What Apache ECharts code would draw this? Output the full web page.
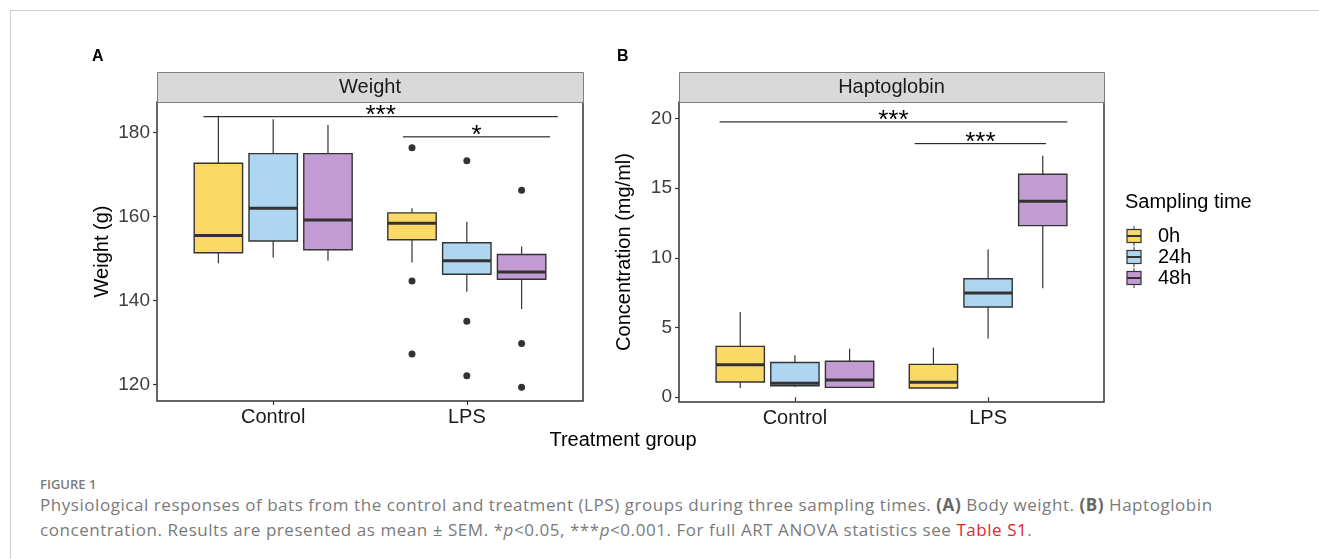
<!DOCTYPE html>
<html lang="en">
<head>
    <meta charset="UTF-8">
    <title>Figure 1</title>
    <script src="https://cdn.jsdelivr.net/npm/echarts@6.0.0/dist/echarts.min.js"></script>
    <style>
        body { margin: 0; background: #fff; }
        .frame { position: absolute; left: 10px; top: 10px; width: 1309px; height: 549px;
                 border-top: 1px solid #d0d0d0; border-left: 1px solid #d0d0d0; }
        #chart { position: absolute; left: 0; top: 0; width: 1319px; height: 462px; }
        #caption { position: absolute; left: 40px; top: 476px; color: #7a7a7a;
                   font-family: "Open Sans", sans-serif; white-space: nowrap; }
        #caption .fig { font-size: 13px; font-weight: 600; line-height: 16px; color: #7a7a7a; }
        #caption .txt { font-size: 17px; font-weight: 400; letter-spacing: 0.55px; line-height: 25px; margin-top: 0; }
        #caption b { color: #666; font-weight: 700; }
        #caption .red { color: #e0282e; }
    </style>
</head>
<body>
    <div class="frame"></div>
    <div id="chart"></div>
    <div id="caption">
        <div class="fig">FIGURE 1</div>
        <div class="txt">Physiological responses of bats from the control and treatment (LPS) groups during three sampling times. <b>(A)</b> Body weight. <b>(B)</b> Haptoglobin<br>concentration. Results are presented as mean ± SEM. *<i>p</i>&lt;0.05, ***<i>p</i>&lt;0.001. For full ART ANOVA statistics see <span class="red">Table S1</span>.</div>
    </div>

    <script>
        // 分组与采样时间
        const categories = ['Control', 'LPS'];
        const times = ['0h', '24h', '48h'];
        const timeColors = ['#FBD966', '#AED6F1', '#C39BD3'];

        // 箱线数据 [下须, Q1, 中位数, Q3, 上须]，每个处理组一条
        const weight0h = [[148.9, 151.4, 155.5, 172.7, 184.0], [149.1, 154.5, 158.4, 160.9, 162.0]];
        const weight24h = [[150.3, 154.2, 162.0, 175.0, 183.2], [142.1, 146.3, 149.5, 153.8, 158.8]];
        const weight48h = [[149.5, 152.1, 159.2, 175.0, 181.8], [138.0, 145.1, 146.8, 151.0, 152.9]];
        const weightOut0h = [[], [176.4, 144.7, 127.3]];
        const weightOut24h = [[], [173.3, 135.1, 122.1]];
        const weightOut48h = [[], [166.3, 129.8, 119.4]];

        const hapto0h = [[0.66, 1.09, 2.34, 3.65, 6.12], [0.64, 0.66, 1.07, 2.36, 3.56]];
        const hapto24h = [[0.73, 0.83, 1.0, 2.50, 3.01], [4.21, 6.48, 7.48, 8.51, 10.6]];
        const hapto48h = [[0.66, 0.71, 1.24, 2.58, 3.49], [7.82, 12.32, 14.06, 16.0, 17.34]];

        const weightTicks = [120, 140, 160, 180];
        const haptoTicks = [0, 5, 10, 15, 20];

        // 显著性标注 [起点x, 终点x, y, 文本]
        const weightSig = [[0.64, 2.47, 183.8, '***'], [1.67, 2.43, 179.0, '*']];
        const haptoSig = [[0.61, 2.41, 19.76, '***'], [1.62, 2.30, 18.2, '***']];

        const DODGE = 0.283;
        const BOX_W = 0.25;
        const FONT = '"Liberation Sans", Arial, sans-serif';
        const INK = '#333';

        function boxData(stats, t) {
            return stats.map((s, c) => [c + 1 + (t - 1) * DODGE].concat(s));
        }
        function outlierData(outs, t) {
            const pts = [];
            outs.forEach((list, c) => list.forEach(v => pts.push([c + 1 + (t - 1) * DODGE, v])));
            return pts;
        }

        function renderBox(params, api) {
            const x = api.value(0);
            const lo = api.coord([x, api.value(1)]);
            const q1 = api.coord([x, api.value(2)]);
            const med = api.coord([x, api.value(3)]);
            const q3 = api.coord([x, api.value(4)]);
            const hi = api.coord([x, api.value(5)]);
            const half = api.size([BOX_W, 0])[0] / 2;
            const cx = lo[0];
            return {
                type: 'group',
                children: [
                    { type: 'line', shape: { x1: cx, y1: hi[1], x2: cx, y2: q3[1] }, style: { stroke: INK, lineWidth: 1.2 } },
                    { type: 'line', shape: { x1: cx, y1: q1[1], x2: cx, y2: lo[1] }, style: { stroke: INK, lineWidth: 1.2 } },
                    { type: 'rect', shape: { x: cx - half, y: q3[1], width: half * 2, height: q1[1] - q3[1] },
                      style: { fill: api.visual('color'), stroke: INK, lineWidth: 1.4 } },
                    { type: 'line', shape: { x1: cx - half, y1: med[1], x2: cx + half, y2: med[1] }, style: { stroke: INK, lineWidth: 3 } }
                ]
            };
        }

        function renderSig(params, api) {
            const a = api.coord([api.value(0), api.value(2)]);
            const b = api.coord([api.value(1), api.value(2)]);
            return {
                type: 'group',
                children: [
                    { type: 'line', shape: { x1: a[0], y1: a[1], x2: b[0], y2: b[1] }, style: { stroke: '#000', lineWidth: 1 } },
                    { type: 'text', x: (a[0] + b[0]) / 2, y: a[1] - 1,
                      style: { text: api.value(3), fill: '#000', font: '26px ' + FONT, align: 'center', verticalAlign: 'middle' } }
                ]
            };
        }

        // 图例图标：小箱线
        function keyIcon(color) {
            const svg = '<svg xmlns="http://www.w3.org/2000/svg" width="27" height="20" viewBox="0 0 27 20">' +
                '<line x1="8" y1="0" x2="8" y2="20" stroke="#333" stroke-width="1"/>' +
                '<rect x="1" y="3.5" width="14" height="13" fill="' + color + '" stroke="#333" stroke-width="1.2"/>' +
                '<line x1="1" y1="10" x2="15" y2="10" stroke="#333" stroke-width="2"/></svg>';
            return 'image://data:image/svg+xml;charset=utf-8,' + encodeURIComponent(svg);
        }

        const weightSets = [weight0h, weight24h, weight48h];
        const weightOuts = [weightOut0h, weightOut24h, weightOut48h];
        const haptoSets = [hapto0h, hapto24h, hapto48h];

        function xAxisFor(gridIndex) {
            return {
                type: 'value', gridIndex: gridIndex, min: 0.4, max: 2.6,
                axisLine: { show: false },
                splitLine: { show: false },
                axisTick: { show: true, length: 4, customValues: [1, 2], lineStyle: { color: INK, width: 1.2 } },
                axisLabel: { customValues: [1, 2], formatter: v => categories[Math.round(v) - 1],
                             color: '#1a1a1a', fontSize: 20, fontFamily: FONT, margin: 6 }
            };
        }
        function yAxisFor(gridIndex, min, max, ticks, name) {
            return {
                type: 'value', gridIndex: gridIndex, min: min, max: max,
                name: name, nameLocation: 'middle', nameGap: 45,
                nameTextStyle: { fontSize: 20, color: '#000', fontFamily: FONT },
                axisLine: { show: false },
                splitLine: { show: false },
                axisTick: { show: true, length: 4, customValues: ticks, lineStyle: { color: INK, width: 1.2 } },
                axisLabel: { customValues: ticks, color: '#3d3d3d', fontSize: 19, fontFamily: FONT, margin: 7 }
            };
        }

        const series = [];
        times.forEach((t, i) => {
            series.push({
                name: t, type: 'custom', xAxisIndex: 0, yAxisIndex: 0,
                itemStyle: { color: timeColors[i] },
                encode: { x: 0, y: [1, 5] },
                renderItem: renderBox, data: boxData(weightSets[i], i), z: 2
            });
            series.push({
                name: t, type: 'custom', xAxisIndex: 1, yAxisIndex: 1,
                itemStyle: { color: timeColors[i] },
                encode: { x: 0, y: [1, 5] },
                renderItem: renderBox, data: boxData(haptoSets[i], i), z: 2
            });
            series.push({
                name: t, type: 'scatter', xAxisIndex: 0, yAxisIndex: 0,
                symbolSize: 7, itemStyle: { color: '#000' },
                data: outlierData(weightOuts[i], i), z: 3
            });
        });
        series.push({ type: 'custom', xAxisIndex: 0, yAxisIndex: 0, renderItem: renderSig,
                      encode: { x: [0, 1], y: 2 }, data: weightSig, z: 4, silent: true });
        series.push({ type: 'custom', xAxisIndex: 1, yAxisIndex: 1, renderItem: renderSig,
                      encode: { x: [0, 1], y: 2 }, data: haptoSig, z: 4, silent: true });

        function strip(left, width, label) {
            return [
                { type: 'rect', left: left, top: 72, shape: { width: width, height: 30 },
                  style: { fill: '#d9d9d9', stroke: '#7f7f7f', lineWidth: 1 } },
                { type: 'text', x: left + width / 2, y: 87,
                  style: { text: label, font: '20px ' + FONT, fill: '#1a1a1a', align: 'center', verticalAlign: 'middle' } }
            ];
        }

        const chart = echarts.init(document.getElementById('chart'));
        chart.setOption({
            animation: false,
            title: [
                { text: 'A', left: 87, top: 44, textStyle: { fontSize: 16, fontWeight: 'bold', color: '#000', fontFamily: FONT } },
                { text: 'B', left: 612, top: 44, textStyle: { fontSize: 16, fontWeight: 'bold', color: '#000', fontFamily: FONT } },
                { text: 'Sampling time', left: 1120, top: 187, textStyle: { fontSize: 20, fontWeight: 'normal', color: '#000', fontFamily: FONT } }
            ],
            legend: {
                data: times.map((t, i) => ({ name: t, icon: keyIcon(timeColors[i]) })),
                orient: 'vertical', left: 1121, top: 221,
                itemWidth: 27, itemHeight: 20, itemGap: 1,
                textStyle: { fontSize: 20, color: '#000', fontFamily: FONT, padding: [0, 0, 0, 0] },
                selectedMode: false
            },
            grid: [
                { left: 157, top: 102, width: 426, height: 299, show: true, borderColor: INK, borderWidth: 1.5, backgroundColor: 'transparent' },
                { left: 679, top: 102, width: 425, height: 300, show: true, borderColor: INK, borderWidth: 1.5, backgroundColor: 'transparent' }
            ],
            xAxis: [xAxisFor(0), xAxisFor(1)],
            yAxis: [
                yAxisFor(0, 116.1, 187.3, weightTicks, 'Weight (g)'),
                yAxisFor(1, -0.34, 21.19, haptoTicks, 'Concentration (mg/ml)')
            ],
            graphic: strip(157, 426, 'Weight').concat(strip(679, 425, 'Haptoglobin')).concat([
                { type: 'text', x: 623, y: 440,
                  style: { text: 'Treatment group', font: '20px ' + FONT, fill: '#000', align: 'center', verticalAlign: 'middle' } }
            ]),
            series: series
        });
    </script>
</body>
</html>
